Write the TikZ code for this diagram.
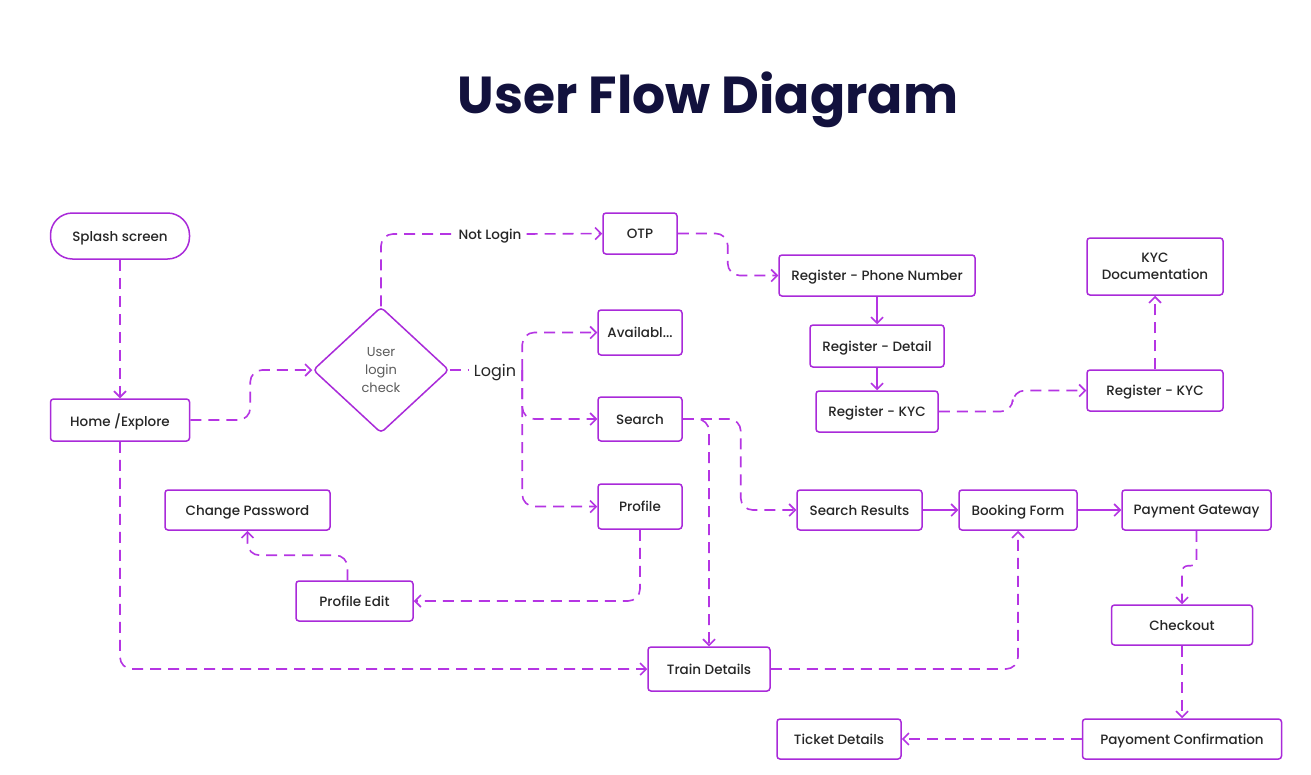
\documentclass[tikz,border=0pt]{standalone}
\usepackage{fontspec}
\setmainfont{Poppins}
\newfontfamily\medfont{Poppins Medium}
\usetikzlibrary{arrows.meta,positioning,shapes.geometric}
\definecolor{flowpurple}{HTML}{B535E3}
\definecolor{boxpurple}{HTML}{A92AD9}
\definecolor{titleblue}{HTML}{12113D}
\definecolor{txtgray}{HTML}{262626}

\begin{document}
\begin{tikzpicture}[x=1pt,y=-1pt,
  box/.style={draw=boxpurple, line width=1.5pt, rounded corners=3pt, inner sep=0pt, text depth=0pt,
    text=txtgray, font=\medfont\fontsize{13.5}{17}\selectfont, align=center},
  pill/.style={box, rounded corners=22pt},
  check/.style={diamond, draw=boxpurple, line width=1.5pt, rounded corners=4pt, inner sep=0pt,
    aspect=1.08, minimum width=136pt, minimum height=126pt, text=txtgray!75,
    font=\fontsize{13}{18}\selectfont, align=center},
  flow/.style={draw=flowpurple, line width=1.6pt, dash pattern=on 11pt off 7pt,
    -{Straight Barb[length=6pt,width=12pt]}, rounded corners=12pt},
  solidflow/.style={draw=flowpurple, line width=1.6pt, -{Straight Barb[length=6pt,width=12pt]}},
  tag/.style={inner xsep=5pt, inner ysep=1pt, text depth=0pt, text=txtgray, font=\medfont\fontsize{13.5}{17}\selectfont}
]
\fill[white] (0,0) rectangle (1311,774);
\useasboundingbox (0,0) rectangle (1311,774);

\node[anchor=base, font=\fontsize{52}{56}\selectfont\bfseries, text=titleblue] (title) at (708,113) {User Flow Diagram};

\node[pill, minimum width=139pt, minimum height=46pt] (splash) at (120,236) {Splash screen};
\node[box, minimum width=139pt, minimum height=42pt] (home) at (120,420) {Home /Explore};
\node[check] (check) at (381,370) {User\\login\\check};
\node[tag] (notlogin) at (490,234) {Not Login};
\node[tag, font=\fontsize{16}{19}\selectfont] (login) at (495,370) {Login};
\coordinate (fork) at ([xshift=1pt]login.east);

\node[box, minimum width=74pt, minimum height=41pt] (otp) at (640,233.5) {OTP};
\node[box, minimum width=196pt, minimum height=41pt] (regphone) at (877,275.5) {Register - Phone Number};
\node[box, minimum width=134pt, minimum height=42pt] (regdetail) at (877,346) {Register - Detail};
\node[box, minimum width=122pt, minimum height=41pt] (regkyc) at (877,411.5) {Register - KYC};
\node[box, minimum width=136pt, minimum height=41pt] (kyc) at (1155,390.5) {Register - KYC};
\node[box, minimum width=136pt, minimum height=57pt] (kycdoc) at (1155,266.5) {KYC\\Documentation};

\node[box, minimum width=84pt, minimum height=45pt] (avail) at (640,332.5) {Availabl...};
\node[box, minimum width=84pt, minimum height=44pt] (search) at (640,419) {Search};
\node[box, minimum width=84pt, minimum height=45pt] (profile) at (640,506.5) {Profile};
\node[box, minimum width=165pt, minimum height=40pt] (cpw) at (247.5,510) {Change Password};
\node[box, minimum width=117pt, minimum height=40pt] (pedit) at (354.5,601) {Profile Edit};
\node[box, minimum width=122pt, minimum height=44pt] (train) at (709,669) {Train Details};

\node[box, minimum width=125pt, minimum height=40pt] (results) at (859.5,510) {Search Results};
\node[box, minimum width=118pt, minimum height=40pt] (booking) at (1018,510) {Booking Form};
\node[box, minimum width=149pt, minimum height=40pt] (pay) at (1196.5,510) {Payment Gateway};
\node[box, minimum width=141pt, minimum height=40pt] (checkout) at (1182,625) {Checkout};
\node[box, minimum width=199pt, minimum height=40pt] (confirm) at (1182,739) {Payoment Confirmation};
\node[box, minimum width=124pt, minimum height=40pt] (ticket) at (839,739) {Ticket Details};

\draw[flow] (splash) -- (home);
\draw[flow] (home.east) -- ++(60,0) |- (check.west);
\draw[flow,-] (check.north) |- (notlogin.west);
\draw[flow] (notlogin.east) -- (otp.west);
\draw[flow,-] (check.east) -- (login.west);
\draw[flow] (fork) |- (avail.west);
\draw[flow] (fork) |- (search.west);
\draw[flow] (fork) |- (profile.west);

\draw[flow] (otp.east) -- ++(50,0) |- (regphone.west);
\draw[solidflow] (regphone) -- (regdetail);
\draw[solidflow] (regdetail) -- (regkyc);
\draw[flow] (regkyc.east) -- ++(74,0) |- (kyc.west);
\draw[flow] (kyc) -- (kycdoc);

\draw[flow] (search.east) -| (train.north);
\draw[flow] (search.east) -- ++(58,0) |- (results.west);
\draw[flow] (profile.south) |- (pedit.east);
\draw[flow] ([xshift=-7pt]pedit.north) -- ++(0,-25) -| (cpw.south);
\draw[flow] (home.south) |- (train.west);
\draw[flow] (train.east) -| (booking.south);

\draw[solidflow] (results) -- (booking);
\draw[solidflow] (booking) -- (pay);
\draw[flow, rounded corners=6pt] (pay.south) -- ++(0,35) -| (checkout.north);
\draw[flow] (checkout) -- (confirm);
\draw[flow] (confirm) -- (ticket);
\end{tikzpicture}
\end{document}
